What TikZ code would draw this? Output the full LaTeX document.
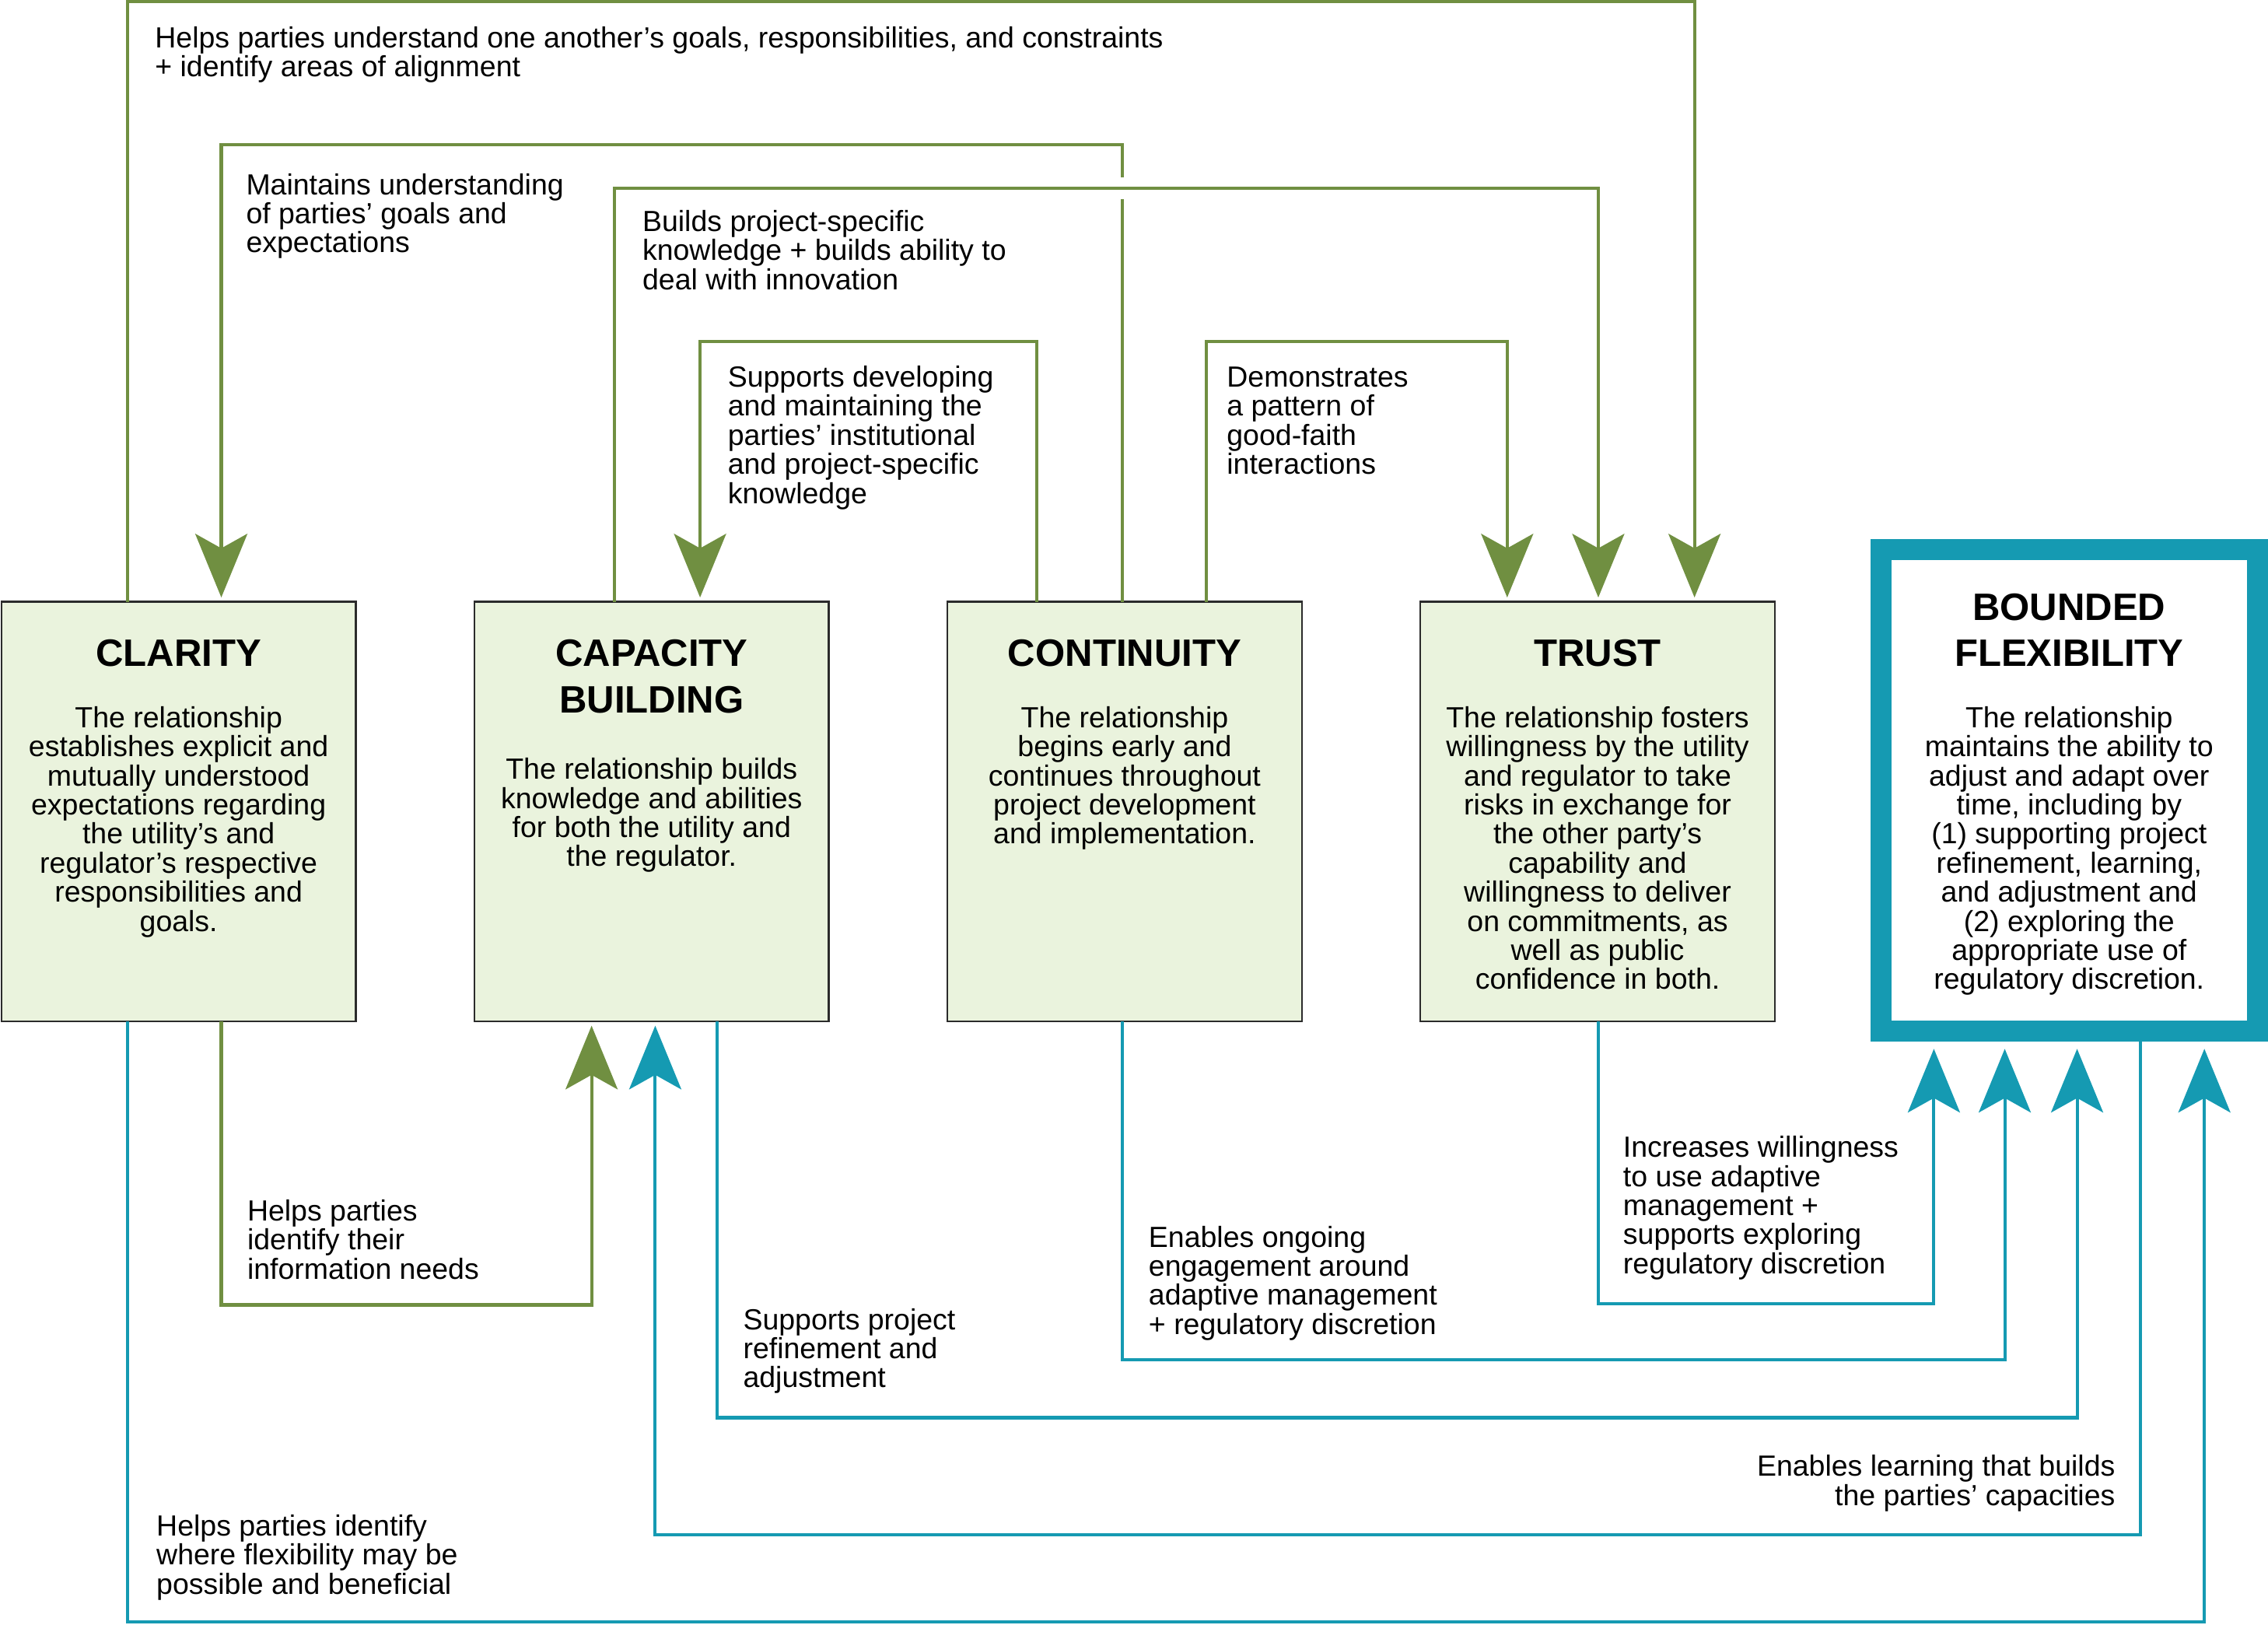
\documentclass[tikz,border=0pt]{standalone}
\usepackage{fontspec}
\setmainfont{Liberation Sans}
\usetikzlibrary{arrows.meta,calc}
\definecolor{grn}{HTML}{708F41}
\definecolor{tealc}{HTML}{159AB2}
\definecolor{boxfill}{HTML}{EAF3DD}
\definecolor{boxline}{HTML}{2B2B2B}
\newcommand{\lblfont}{\fontsize{20.15}{20.1}\selectfont}
\newcommand{\ttlfont}{\fontsize{26.4}{32}\selectfont\bfseries}
\newcommand{\LinesL}[1]{\vtop{\let\\\cr\halign{##\hfil\cr#1\crcr}}}
\newcommand{\LinesC}[1]{\vtop{\let\\\cr\halign{\hfil##\hfil\cr#1\crcr}}}
\newcommand{\LinesR}[1]{\vtop{\let\\\cr\halign{\hfil##\cr#1\crcr}}}
\tikzset{
  box/.style={draw=boxline, fill=boxfill, line width=1.3pt, minimum width=245pt, minimum height=290pt, inner sep=0pt, outer sep=0pt, anchor=north west},
  bfbox/.style={draw=tealc, fill=white, line width=14.5pt, minimum width=260pt, minimum height=332.5pt, inner sep=0pt, outer sep=0pt, anchor=north west},
  gline/.style={draw=grn, line width=2.2pt},
  tline/.style={draw=tealc, line width=2.2pt},
  tip/.style={-{Stealth[length=44pt,width=36pt,inset=10pt]}},
  lbl/.style={inner sep=0pt, font=\lblfont, anchor=base west},
  lblr/.style={inner sep=0pt, font=\lblfont, anchor=base east},
  ttl/.style={inner sep=0pt, font=\ttlfont, anchor=base},
  body/.style={inner sep=0pt, font=\lblfont, anchor=base},
}
\begin{document}
\begin{tikzpicture}[x=1pt,y=-1pt]
\useasboundingbox (0,0) rectangle (1568,1122.8);
% boxes
\node[box] (clar) at (1,416) {};
\node[box] (cap) at (328,416) {};
\node[box] (cont) at (655,416) {};
\node[box] (trust) at (982,416) {};
\node[bfbox] (bf) at (1300.5,380) {};
% titles and bodies
\node[ttl] (clarT) at ($(clar.north)+(0,44.6)$) {CLARITY};
\node[body] (clarB) at ($(clar.north)+(0,87)$) {\LinesC{The relationship\\establishes explicit and\\mutually understood\\expectations regarding\\the utility’s and\\regulator’s respective\\responsibilities and\\goals.}};
\node[ttl] (capT) at ($(cap.north)+(0,44.6)$) {\LinesC{CAPACITY\\BUILDING}};
\node[body] (capB) at ($(cap.north)+(0,122.6)$) {\LinesC{The relationship builds\\knowledge and abilities\\for both the utility and\\the regulator.}};
\node[ttl] (contT) at ($(cont.north)+(0,44.6)$) {CONTINUITY};
\node[body] (contB) at ($(cont.north)+(0,87)$) {\LinesC{The relationship\\begins early and\\continues throughout\\project development\\and implementation.}};
\node[ttl] (trustT) at ($(trust.north)+(0,44.6)$) {TRUST};
\node[body] (trustB) at ($(trust.north)+(0,87)$) {\LinesC{The relationship fosters\\willingness by the utility\\and regulator to take\\risks in exchange for\\the other party’s\\capability and\\willingness to deliver\\on commitments, as\\well as public\\confidence in both.}};
\node[ttl] (bfT) at ($(bf.north)+(0,48.6)$) {\LinesC{BOUNDED\\FLEXIBILITY}};
\node[body] (bfB) at ($(bf.north)+(0,123)$) {\LinesC{The relationship\\maintains the ability to\\adjust and adapt over\\time, including by\\(1) supporting project\\refinement, learning,\\and adjustment and\\(2) exploring the\\appropriate use of\\regulatory discretion.}};
% green connectors
\draw[gline,tip] ($(clar.north west)+(87,0)$) -- ++(0,-415) -| ($(trust.north west)+(189.5,-3)$);
\draw[gline,tip] ($(cont.north west)+(121,0)$) -- ++(0,-278.3) ++(0,-15.1) -- ++(0,-22.6) -| ($(clar.north west)+(152,-3)$);
\draw[gline,tip] ($(cap.north west)+(97,0)$) -- ++(0,-286) -| ($(trust.north west)+(123,-3)$);
\draw[gline,tip] ($(cont.north west)+(62,0)$) -- ++(0,-180) -| ($(cap.north west)+(156,-3)$);
\draw[gline,tip] ($(cont.north west)+(179,0)$) -- ++(0,-180) -| ($(trust.north west)+(60,-3)$);
\draw[gline,tip] ($(clar.south west)+(152,0)$) -- ++(0,196) -| ($(cap.south west)+(81,3)$);
% teal connectors
\draw[tline,tip] ($(clar.south west)+(87,0)$) -- ++(0,415) -| ($(bf.south west)+(223.5,12.5)$);
\draw[tline,tip] ($(bf.south west)+(179.5,0)$) -- ++(0,348.5) -| ($(cap.south west)+(125,3)$);
\draw[tline,tip] ($(cap.south west)+(168,0)$) -- ++(0,274) -| ($(bf.south west)+(135.5,12.5)$);
\draw[tline,tip] ($(cont.south west)+(121,0)$) -- ++(0,234) -| ($(bf.south west)+(85.5,12.5)$);
\draw[tline,tip] ($(trust.south west)+(123,0)$) -- ++(0,195) -| ($(bf.south west)+(36.5,12.5)$);
% labels
\node[lbl] (l1) at (107,33) {\LinesL{Helps parties understand one another’s goals, responsibilities, and constraints\\+ identify areas of alignment}};
\node[lbl] (l2) at (170,134.5) {\LinesL{Maintains understanding\\of parties’ goals and\\expectations}};
\node[lbl] (l3) at (444,160) {\LinesL{Builds project-specific\\knowledge + builds ability to\\deal with innovation}};
\node[lbl] (l4) at (503,267.5) {\LinesL{Supports developing\\and maintaining the\\parties’ institutional\\and project-specific\\knowledge}};
\node[lbl] (l5) at (848,267.5) {\LinesL{Demonstrates\\a pattern of\\good-faith\\interactions}};
\node[lbl] (l6) at (170.8,844) {\LinesL{Helps parties\\identify their\\information needs}};
\node[lbl] (l7) at (513.6,919) {\LinesL{Supports project\\refinement and\\adjustment}};
\node[lbl] (l8) at (794,862) {\LinesL{Enables ongoing\\engagement around\\adaptive management\\+ regulatory discretion}};
\node[lbl] (l9) at (1122,800) {\LinesL{Increases willingness\\to use adaptive\\management +\\supports exploring\\regulatory discretion}};
\node[lblr] (l10) at (1462.5,1020.5) {\LinesR{Enables learning that builds\\the parties’ capacities}};
\node[lbl] (l11) at (108,1061.6) {\LinesL{Helps parties identify\\where flexibility may be\\possible and beneficial}};
\end{tikzpicture}
\end{document}
